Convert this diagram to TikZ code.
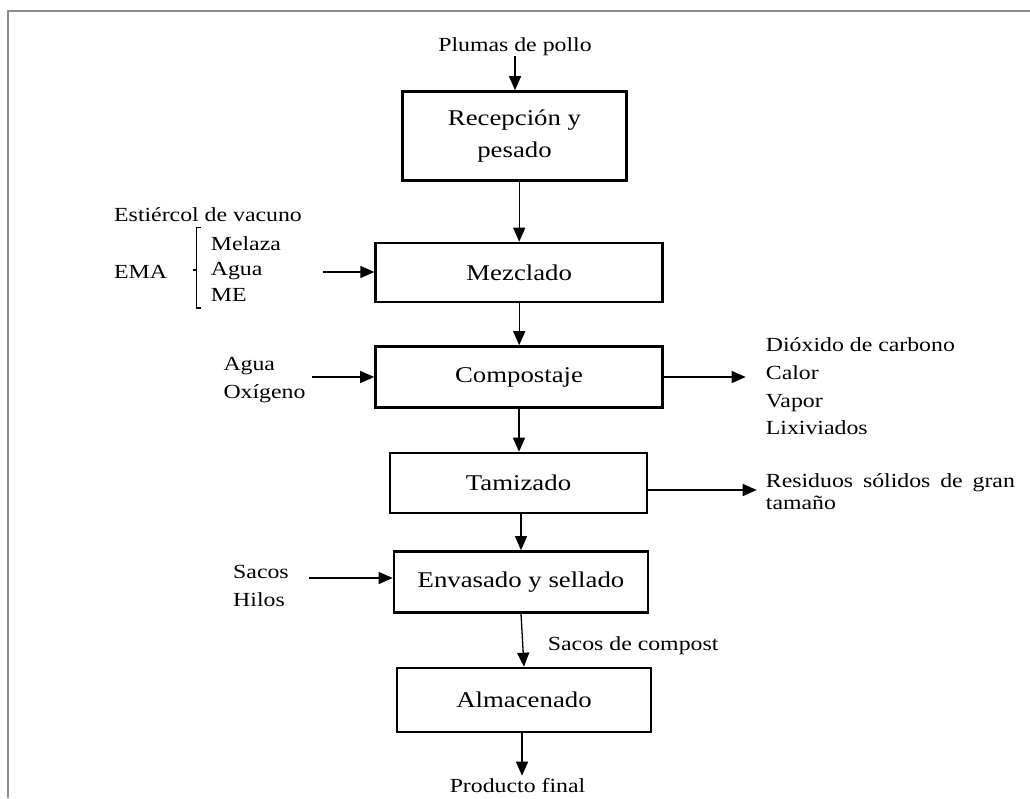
\documentclass[tikz,border=0pt]{standalone}
\usepackage{fontspec}
\setmainfont{Liberation Serif}[FakeStretch=1.19]
\usetikzlibrary{arrows.meta,calc}
\begin{document}
\begin{tikzpicture}[x=1pt,y=-1pt,
  box/.style={draw, line width=2.6pt, inner sep=0pt, font=\fontsize{22.5}{32}\selectfont, align=center},
  lbl/.style={inner sep=0pt, font=\fontsize{20}{27.7}\selectfont, align=left},
  arr/.style={line width=1.3pt, -{Triangle[length=14pt,width=12pt]}},
  bracketline/.style={line width=1.2pt},
  frameline/.style={draw=black!45, line width=2pt}]
\useasboundingbox (0,0) rectangle (1030,798);
\draw[frameline] (8.3,798) -- (8.3,11.3) -- (1030,11.3);

% process boxes
\node[box, minimum width=224pt, minimum height=89pt] (rec) at (514.5,136) {Recepción y\\pesado};
\node[box, minimum width=287pt, minimum height=59pt] (mez) at (519.2,272.5) {Mezclado};
\node[box, minimum width=287pt, minimum height=61pt] (comp) at (519,377) {Compostaje};
\node[box, minimum width=257pt, minimum height=60pt] (tam) at (518.5,483) {Tamizado};
\node[box, minimum width=254pt, minimum height=61pt] (env) at (521,582) {Envasado y sellado};
\node[box, minimum width=254pt, minimum height=64pt] (alm) at (524,700) {Almacenado};

% labels
\node[lbl, anchor=base] (plu) at (515,51.7) {Plumas de pollo};
\node[lbl, anchor=base west] (est) at (114,221.6) {Estiércol de vacuno};
\node[lbl, anchor=base west] (ema) at (114,278.3) {EMA};
\node[lbl, anchor=west, font=\fontsize{20}{25.8}\selectfont] (emalist) at (210.7,269) {Melaza\\Agua\\ME};
\node[lbl, anchor=west] (agua) at (223.3,380) {Agua\\Oxígeno};
\node[lbl, anchor=west] (gases) at (765.7,386.3) {Dióxido de carbono\\Calor\\Vapor\\Lixiviados};
\node[lbl, anchor=west, text width=249pt, align=justify, font=\fontsize{20}{21.5}\selectfont] (res) at (765.7,491.7) {\hyphenpenalty=10000 Residuos sólidos de gran tamaño};
\node[lbl, anchor=west] (sacos) at (233,585.7) {Sacos\\Hilos};
\node[lbl, anchor=base west] (sacosc) at (547.7,650) {Sacos de compost};
\node[lbl, anchor=base] (prod) at (517.5,792) {Producto final};

% bracket
\draw[bracketline] (200.5,227.3) -- (196.7,227.3) -- (196.7,308) -- (200.5,308);
\draw[bracketline] (196.7,270) -- (193.3,270);

% main flow
\draw[arr] (plu.south) -- (plu.south |- rec.north);
\draw[arr] (rec.south -| mez.north) -- (mez.north);
\draw[arr] (mez.south) -- (mez.south |- comp.north);
\draw[arr] (comp.south) -- (comp.south |- tam.north);
\draw[arr] (tam.south -| env.north) -- (env.north);
\draw[arr] (env.south) -- (alm.north);
\draw[arr] ($(alm.south)+(-2,0)$) -- ($(alm.south |- prod.north)+(-2,-2)$);

% side flows
\coordinate (emaIn) at (323,272);
\draw[arr] (emaIn) -- (emaIn -| mez.west);
\coordinate (aguaIn) at (312,377);
\draw[arr] (aguaIn) -- (aguaIn -| comp.west);
\coordinate (gasOut) at (745.7,377);
\draw[arr] (gasOut -| comp.east) -- (gasOut);
\coordinate (resOut) at (756.7,490);
\draw[arr] (resOut -| tam.east) -- (resOut);
\coordinate (sacIn) at (309,578);
\draw[arr] (sacIn) -- (sacIn -| env.west);
\end{tikzpicture}
\end{document}
